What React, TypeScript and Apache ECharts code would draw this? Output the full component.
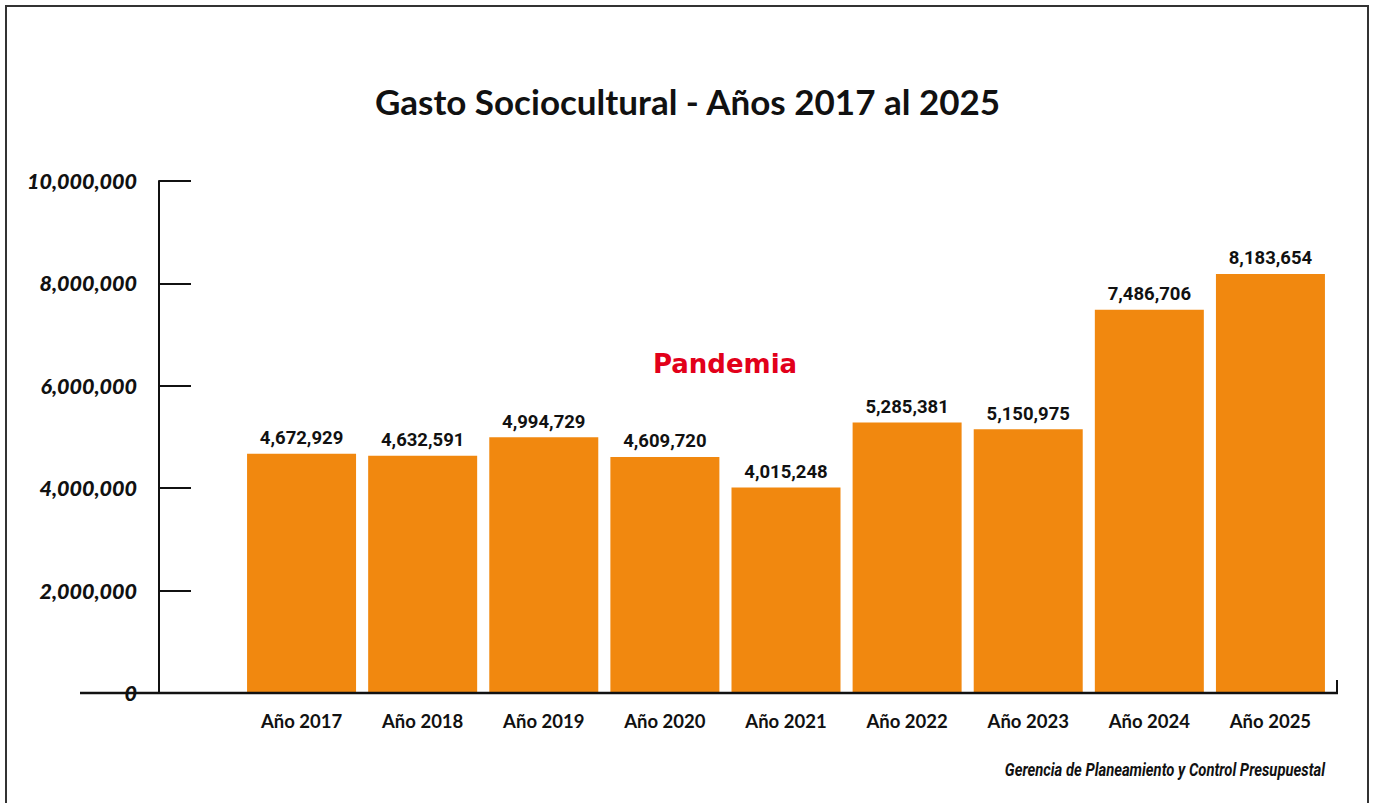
import React, { useEffect, useRef } from "react";
import * as echarts from "echarts";

const categories = ["Año 2017", "Año 2018", "Año 2019", "Año 2020", "Año 2021", "Año 2022", "Año 2023", "Año 2024", "Año 2025"];
const values = [4672929, 4632591, 4994729, 4609720, 4015248, 5285381, 5150975, 7486706, 8183654];
const yMin = 0;
const yMax = 10000000;
const yInterval = 2000000;
const titleText = "Gasto Sociocultural - Años 2017 al 2025";
const noteText = "Gerencia de Planeamiento y Control Presupuestal";
const annotationText = "Pandemia";

const fmt = (v: number) => v.toLocaleString("en-US");

export default function App() {
  const ref = useRef<HTMLDivElement>(null);
  useEffect(() => {
    if (!ref.current) return;
    const chart = echarts.init(ref.current, null, { renderer: "svg" });
    chart.setOption({
      animation: false,
      backgroundColor: "#ffffff",
      title: {
        text: titleText,
        left: "center",
        top: 78,
        textStyle: { fontFamily: "Lato", fontWeight: "bold", fontSize: 35, color: "#111" },
      },
      grid: { left: 241, right: 44, top: 181, bottom: 110 },
      xAxis: {
        type: "category",
        data: categories,
        axisLine: { show: false },
        axisTick: { show: false },
        axisLabel: { margin: 18, fontFamily: "Lato", fontWeight: "bold", fontSize: 18.5, color: "#111" },
      },
      yAxis: {
        type: "value",
        min: yMin,
        max: yMax,
        interval: yInterval,
        offset: 82,
        splitLine: { show: false },
        axisLine: { show: true, lineStyle: { color: "#111", width: 2 } },
        axisTick: { show: true, inside: true, length: 32, lineStyle: { color: "#111", width: 2 } },
        axisLabel: {
          margin: 22,
          formatter: (v: number) => fmt(v),
          fontFamily: "Lato",
          fontWeight: 900,
          fontStyle: "italic",
          fontSize: 21.5,
          color: "#111",
        },
      },
      series: [
        {
          type: "bar",
          data: values,
          barWidth: 109,
          itemStyle: { color: "#F1880F" },
          label: {
            show: true,
            position: "top",
            distance: 6,
            formatter: (p: any) => fmt(p.value),
            fontFamily: "Roboto",
            fontWeight: "bold",
            fontSize: 18.5,
            color: "#111",
          },
        },
      ],
      graphic: [
        {
          type: "rect",
          shape: { x: 6, y: 6, width: 1362, height: 820 },
          style: { fill: "none", stroke: "#333", lineWidth: 2 },
          silent: true,
        },
        {
          type: "line",
          shape: { x1: 80, y1: 693, x2: 1338, y2: 693 },
          style: { stroke: "#111", lineWidth: 2.5 },
          z: 10,
        },
        {
          type: "line",
          shape: { x1: 1337, y1: 680, x2: 1337, y2: 693 },
          style: { stroke: "#111", lineWidth: 2 },
          z: 10,
        },
        {
          type: "text",
          x: 725,
          y: 364,
          style: {
            text: annotationText,
            fill: "#E2001A",
            font: "bold 26px 'DejaVu Sans'",
            textAlign: "center",
            textVerticalAlign: "middle",
          },
        },
        {
          type: "text",
          x: 1325,
          y: 769,
          scaleX: 0.8,
          style: {
            text: noteText,
            fill: "#111",
            font: "italic bold 18.5px Roboto",
            textAlign: "right",
            textVerticalAlign: "middle",
          },
        },
      ],
    });
    return () => chart.dispose();
  }, []);
  return <div ref={ref} style={{ position: "absolute", left: 0, top: 0, width: 1375, height: 803 }} />;
}
